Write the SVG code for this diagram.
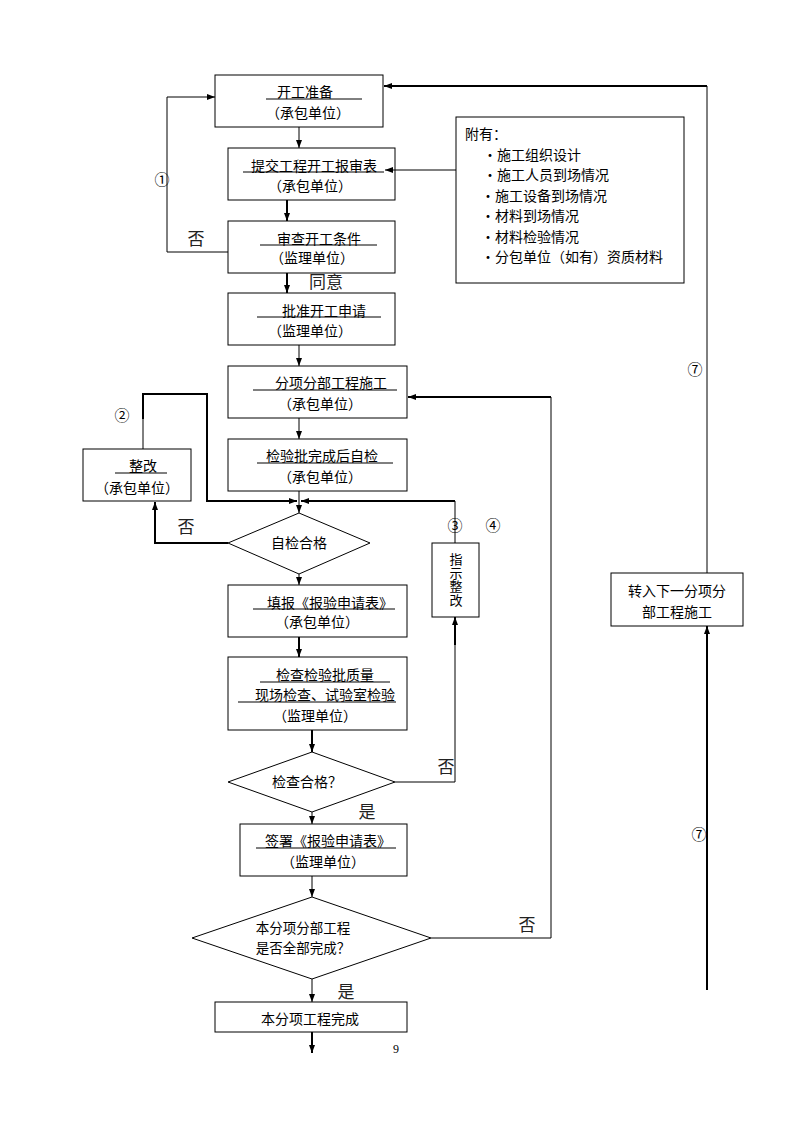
<svg xmlns="http://www.w3.org/2000/svg" width="794" height="1123" viewBox="0 0 794 1123">
<defs>
<marker id="ah" viewBox="0 0 8 8" refX="8" refY="4" markerWidth="8" markerHeight="8" markerUnits="userSpaceOnUse" orient="auto">
<path d="M0,1 L8,4 L0,7 Z" fill="#000"/>
</marker>
</defs>
<style>
.box{fill:none;stroke:#000;stroke-width:1}
.t{font-family:"Noto Sans CJK SC","Liberation Sans",sans-serif;font-size:14px;fill:#000;text-anchor:middle}
.t13{font-family:"Noto Sans CJK SC","Liberation Sans",sans-serif;font-size:13.5px;fill:#000;text-anchor:middle}
.tv{font-family:"Noto Sans CJK SC","Liberation Sans",sans-serif;font-size:13px;fill:#000;text-anchor:middle;writing-mode:vertical-rl;letter-spacing:0.5px}
.tl{font-family:"Noto Sans CJK SC","Liberation Sans",sans-serif;font-size:14px;fill:#000}
.u{stroke:#000;stroke-width:1}
.lbl{font-family:"Noto Sans CJK SC",serif;font-size:17px;fill:#222;text-anchor:middle}
.num{font-family:"Noto Sans CJK SC","DejaVu Sans",sans-serif;font-size:15px;fill:#000;text-anchor:middle}
.c{fill:none;stroke:#000;stroke-width:1}
.c2{fill:none;stroke:#000;stroke-width:2}
.pg{font-family:"Liberation Serif",serif;font-size:12px;fill:#000;text-anchor:middle}
</style>
<rect width="794" height="1123" fill="#fff"/>

<g id="n1">
<rect class="box" x="215" y="75" width="168" height="52"/>
<text class="t" x="305" y="97">开工准备</text>
<line class="u" x1="266" y1="99" x2="362" y2="99"/>
<text class="t" x="308" y="118">（承包单位）</text>
</g>
<g id="n2">
<rect class="box" x="228" y="148" width="167" height="52"/>
<text class="t" x="314" y="171">提交工程开工报审表</text>
<line class="u" x1="243" y1="172" x2="384" y2="172"/>
<text class="t" x="310" y="191">（承包单位）</text>
</g>
<g id="n3">
<rect class="box" x="228" y="221" width="167" height="52"/>
<text class="t" x="319" y="244">审查开工条件</text>
<line class="u" x1="260" y1="245" x2="377" y2="245"/>
<text class="t" x="312" y="263">（监理单位）</text>
</g>
<text class="lbl" x="326" y="288">同意</text>
<g id="n4">
<rect class="box" x="228" y="293" width="167" height="52"/>
<text class="t" x="324" y="316">批准开工申请</text>
<line class="u" x1="257" y1="317" x2="381" y2="317"/>
<text class="t" x="310" y="336">（监理单位）</text>
</g>
<g id="n5">
<rect class="box" x="228" y="366" width="179" height="52"/>
<text class="t" x="331" y="388">分项分部工程施工</text>
<line class="u" x1="253" y1="390" x2="397" y2="390"/>
<text class="t" x="320" y="409">（承包单位）</text>
</g>
<g id="n6">
<rect class="box" x="228" y="439" width="179" height="52"/>
<text class="t" x="322" y="461">检验批完成后自检</text>
<line class="u" x1="257" y1="463" x2="393" y2="463"/>
<text class="t" x="320" y="482">（承包单位）</text>
</g>
<g id="n7">
<rect class="box" x="83" y="449" width="108" height="52"/>
<text class="t" x="143" y="471">整改</text>
<line class="u" x1="115" y1="473" x2="167" y2="473"/>
<text class="t" x="137" y="493">（承包单位）</text>
</g>
<g id="n8">
<polygon class="box" points="299,513 370,543 299,574 228,543"/>
<text class="t" x="299" y="548">自检合格</text>
</g>
<g id="n9">
<rect class="box" x="432" y="543" width="47" height="74"/>
<text class="tv" x="456" y="580">指示整改</text>
</g>
<g id="n10">
<rect class="box" x="228" y="585" width="179" height="52"/>
<text class="t" x="330" y="608">填报《报验申请表》</text>
<line class="u" x1="253" y1="609" x2="395" y2="609"/>
<text class="t" x="317" y="627">（承包单位）</text>
</g>
<g id="n11">
<rect class="box" x="228" y="657" width="179" height="73"/>
<text class="t" x="325" y="680">检查检验批质量</text>
<line class="u" x1="260" y1="682" x2="390" y2="682"/>
<text class="t" x="325" y="700">现场检查、试验室检验</text>
<line class="u" x1="238" y1="702" x2="396" y2="702"/>
<text class="t" x="315" y="721">（监理单位）</text>
</g>
<g id="n12">
<polygon class="box" points="312,752 395,782 312,812 228,782"/>
<text class="t" x="307" y="787">检查合格？</text>
</g>
<text class="lbl" x="446" y="773">否</text>
<text class="lbl" x="367" y="818">是</text>
<g id="n13">
<rect class="box" x="240" y="824" width="167" height="52"/>
<text class="t" x="328" y="846">签署《报验申请表》</text>
<line class="u" x1="256" y1="848" x2="396" y2="848"/>
<text class="t" x="323" y="867">（监理单位）</text>
</g>
<g id="n14">
<polygon class="box" points="312,897 431,938 312,979 192,938"/>
<text class="t13" x="303" y="933">本分项分部工程</text>
<text class="t13" x="303" y="953">是否全部完成？</text>
</g>
<text class="lbl" x="527" y="931">否</text>
<text class="lbl" x="346" y="998">是</text>
<g id="n15">
<rect class="box" x="215" y="1002" width="192" height="30"/>
<text class="t" x="310" y="1024">本分项工程完成</text>
</g>
<text class="pg" x="396" y="1053">9</text>

<g id="n16">
<rect class="box" x="456" y="117" width="228" height="166"/>
<text class="tl" x="465" y="139">附有：</text>
<text class="tl" x="483" y="160">·施工组织设计</text>
<text class="tl" x="483" y="180">·施工人员到场情况</text>
<text class="tl" x="481" y="201">·施工设备到场情况</text>
<text class="tl" x="481" y="221">·材料到场情况</text>
<text class="tl" x="481" y="242">·材料检验情况</text>
<text class="tl" x="481" y="262">·分包单位（如有）资质材料</text>
</g>
<g id="n17">
<rect class="box" x="611" y="573" width="132" height="53"/>
<text class="t" x="677" y="596">转入下一分项分</text>
<text class="t" x="677" y="617">部工程施工</text>
</g>

<g id="connectors">
<line class="c" x1="299" y1="127" x2="299" y2="148" marker-end="url(#ah)"/>
<line class="c2" x1="287" y1="200" x2="287" y2="221" marker-end="url(#ah)"/>
<line class="c2" x1="287" y1="273" x2="287" y2="293" marker-end="url(#ah)"/>
<line class="c" x1="299" y1="345" x2="299" y2="366" marker-end="url(#ah)"/>
<line class="c" x1="299" y1="418" x2="299" y2="439" marker-end="url(#ah)"/>
<line class="c" x1="299" y1="491" x2="299" y2="513" marker-end="url(#ah)"/>
<polyline class="c" points="228,252 167,252 167,97 215,97" marker-end="url(#ah)"/>
<line class="c" x1="456" y1="170" x2="385" y2="170" marker-end="url(#ah)"/>
<polyline class="c" points="707,573 707,86"/>
<line class="c2" x1="707" y1="86" x2="384" y2="86" marker-end="url(#ah)"/>
<line class="c2" x1="707" y1="990" x2="707" y2="626" marker-end="url(#ah)"/>
<polyline class="c" points="143,449 143,394"/>
<line class="c2" x1="143" y1="394" x2="143" y2="419"/>
<polyline class="c2" points="142,394 207,394 207,501 297,501" marker-end="url(#ah)"/>
<polyline class="c" points="455,543 455,501"/>
<line class="c2" x1="455" y1="501" x2="301" y2="501" marker-end="url(#ah)"/>
<polyline class="c2" points="228,543 155,543 155,502" marker-end="url(#ah)"/>
<line class="c" x1="299" y1="574" x2="299" y2="585" marker-end="url(#ah)"/>
<line class="c2" x1="299" y1="637" x2="299" y2="657" marker-end="url(#ah)"/>
<line class="c2" x1="312" y1="730" x2="312" y2="752" marker-end="url(#ah)"/>
<polyline class="c" points="395,782 455,782 455,640"/>
<line class="c2" x1="455" y1="645" x2="455" y2="617" marker-end="url(#ah)"/>
<line class="c" x1="312" y1="812" x2="312" y2="824" marker-end="url(#ah)"/>
<line class="c" x1="312" y1="876" x2="312" y2="897" marker-end="url(#ah)"/>
<polyline class="c" points="431,938 551,938 551,397"/>
<line class="c2" x1="551" y1="397" x2="408" y2="397" marker-end="url(#ah)"/>
<line class="c" x1="312" y1="979" x2="312" y2="1002" marker-end="url(#ah)"/>
<line class="c2" x1="312" y1="1032" x2="312" y2="1053" marker-end="url(#ah)"/>
</g>

<text class="lbl" x="196" y="245">否</text>
<text class="lbl" x="186" y="533">否</text>
<text class="num" x="162" y="185">①</text>
<text class="num" x="122" y="421">②</text>
<text class="num" x="455" y="531">③</text>
<text class="num" x="493" y="531">④</text>
<text class="num" x="695" y="375">⑦</text>
<text class="num" x="699" y="840">⑦</text>
</svg>
